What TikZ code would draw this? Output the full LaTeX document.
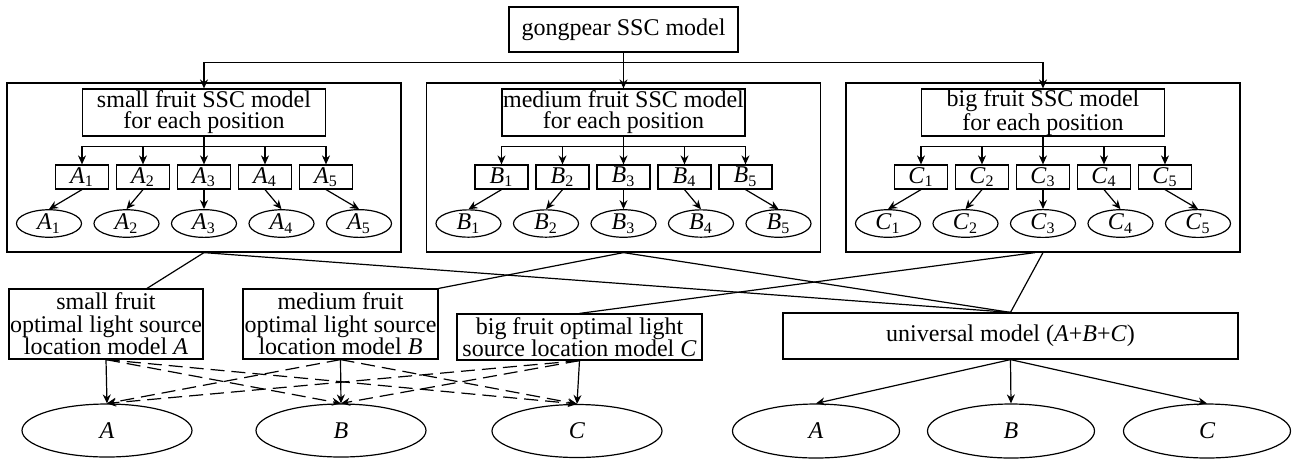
\documentclass[tikz,border=0pt]{standalone}
\usepackage{fontspec}
\setmainfont{Liberation Serif}
\usepackage{tikz}
\usetikzlibrary{shapes.geometric, arrows, arrows.meta, positioning, calc}
\tikzstyle{model} = [rectangle, draw=black, inner sep=0pt, align=center, font=\fontsize{12}{11.3}\selectfont]
\tikzstyle{panel} = [rectangle, draw=black, minimum width=197pt, minimum height=84.5pt]
\tikzstyle{posbox} = [model, minimum width=26.5pt, minimum height=12pt]
\tikzstyle{posoval} = [ellipse, draw=black, inner sep=0pt, minimum width=32.5pt, minimum height=13.5pt, font=\fontsize{12}{12}\selectfont]
\tikzstyle{result} = [ellipse, draw=black, inner sep=0pt, minimum width=85pt, minimum height=26.5pt, font=\fontsize{12}{12}\selectfont\itshape]
\tikzstyle{arrow} = [-{Stealth[length=4.5pt, width=4pt]}]
\tikzstyle{link} = [-]
\tikzstyle{guess} = [arrow, dash pattern=on 7pt off 3.5pt]

\begin{document}
\begin{tikzpicture}[x=0.5pt, y=-0.5pt, line width=0.6pt]
    \useasboundingbox (0,0) rectangle (1298,463);
    % Top model
    \node (top) [model, minimum width=114.5pt, minimum height=22.5pt] at (623.5,29.5) {gongpear SSC model};

    % Panels for small, medium and big fruit
    \foreach \p/\L/\sz in {1/A/small, 2/B/medium, 3/C/big} {
        \pgfmathsetmacro{\cx}{204+419.5*(\p-1)}
        \node (panel\p) [panel] at (\cx,167.5) {};
        \node (sub\p) [model, minimum width=121.5pt, minimum height=23.5pt, font=\fontsize{12}{10.5}\selectfont] at (\cx,112.5) {\sz\ fruit SSC model\\for each position};
        \draw (sub\p.south) -- ++(0,10) coordinate (bus\p);
        \foreach \j in {1,...,5} {
            \node (pos\p\j) [posbox] at (\cx+61*\j-183,177) {\textit{\L}\textsubscript{\j}};
            \node (oval\p\j) [posoval] at (\cx+77.5*\j-232.5,223.5) {\textit{\L}\textsubscript{\j}};
            \draw [arrow] (bus\p) -| (pos\p\j.north);
            \draw [arrow] (pos\p\j.south) -- (oval\p\j.north);
        }
    }

    % Arrows from top model
    \draw [arrow] (top.south) -- (sub2.north);
    \draw [arrow] (top.south) -- ++(0,10) -| (sub1.north);
    \draw [arrow] (top.south) -- ++(0,10) -| (sub3.north);

    % Optimal light source models
    \node (optA) [model, minimum width=97pt, minimum height=35pt] at (106,324) {small fruit\\optimal light source\\location model \textit{A}};
    \node (optB) [model, minimum width=97.5pt, minimum height=35pt] at (340.5,324) {medium fruit\\optimal light source\\location model \textit{B}};
    \node (optC) [model, minimum width=122.5pt, minimum height=23pt] at (579.5,337) {big fruit optimal light\\source location model \textit{C}};
    \node (univ) [model, minimum width=227.5pt, minimum height=23pt] at (1010.5,336) {universal model (\textit{A}+\textit{B}+\textit{C})};

    % Results
    \node (resA) [result] at (107,430.5) {A};
    \node (resB) [result] at (341,430.5) {B};
    \node (resC) [result] at (577,431) {C};
    \node (uniA) [result, minimum width=83.5pt, minimum height=27pt] at (816,431) {A};
    \node (uniB) [result, minimum width=83.5pt, minimum height=27pt] at (1011,431) {B};
    \node (uniC) [result, minimum width=83.5pt, minimum height=27pt] at (1207,431) {C};

    % Links from panels
    \draw [link] (panel1.south) -- ($(optA.north)+(41,0)$);
    \draw [link] (panel1.south) -- (univ.north);
    \draw [link] (panel2.south) -- (optB.north east);
    \draw [link] (panel2.south) -- (univ.north);
    \draw [link] (panel3.south) -- (univ.north);
    \draw [link] ($(panel3.south)+(-8,0)$) -- (optC.north);

    % Arrows to results
    \draw [arrow] (optA.south) -- (resA.north);
    \draw [arrow] (optB.south) -- (resB.north);
    \draw [arrow] (optC.south) -- (resC.north);
    \draw [guess] (optA.south) -- (resB.north);
    \draw [guess] (optA.south) -- (resC.north);
    \draw [guess] (optB.south) -- (resA.north);
    \draw [guess] (optB.south) -- (resC.north);
    \draw [guess] (optC.south) -- (resA.north);
    \draw [guess] (optC.south) -- (resB.north);
    \draw [arrow] (univ.south) -- (uniA.north);
    \draw [arrow] (univ.south) -- (uniB.north);
    \draw [arrow] (univ.south) -- (uniC.north);
\end{tikzpicture}
\end{document}
